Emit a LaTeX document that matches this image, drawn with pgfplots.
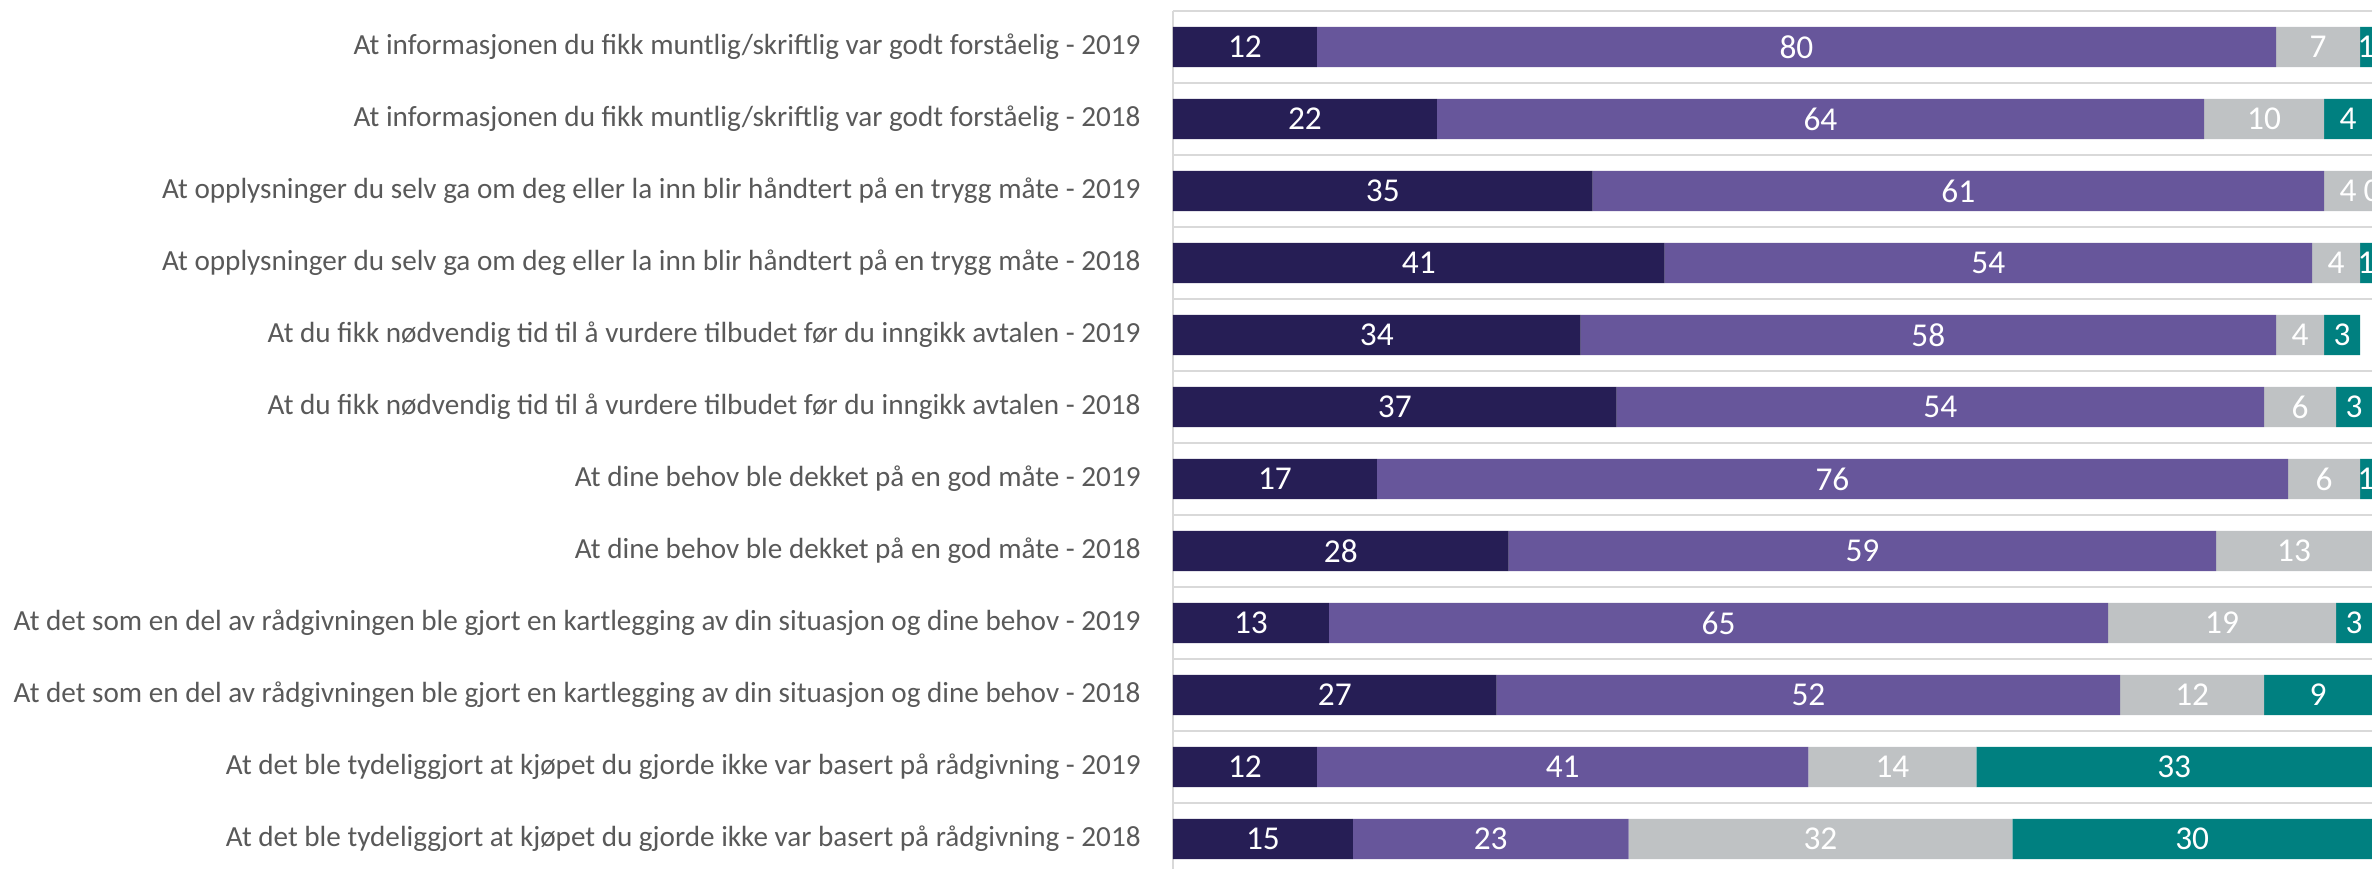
\documentclass[border=0pt]{standalone}
\usepackage{pgfplots}
\usepackage{pgfplotstable}
\pgfplotsset{compat=1.18}
\usepackage{fontspec}
\setmainfont{Carlito}
\definecolor{cnavy}{HTML}{261E55}
\definecolor{cpurple}{HTML}{67569B}
\definecolor{cgrey}{HTML}{BFC2C4}
\definecolor{cteal}{HTML}{008080}
\definecolor{cgrid}{HTML}{D9D9D9}
\definecolor{ctext}{HTML}{595959}
\pgfplotstableread{
a b c d
12 80 7 1
22 64 10 4
35 61 4 0
41 54 4 1
34 58 4 3
37 54 6 3
17 76 6 1
28 59 13 0
13 65 19 3
27 52 12 9
12 41 14 33
15 23 32 30
}\data
\pgfplotsset{
  base/.style={
    scale only axis,
    width=431.64pt, height=308.88pt,
    xmin=0, xmax=100,
    ymin=-0.5, ymax=11.417,
    y dir=reverse,
    /pgf/number format/assume math mode=true,
  }
}
\begin{document}
\begin{tikzpicture}
\begin{axis}[base,
  xbar stacked, bar width=0.556,
  axis x line=none,
  axis y line=left,
  axis line style={-, draw=cgrid, line width=0.8pt},
  ytick={0,...,11},
  yticklabels={
    At informasjonen du fikk muntlig/skriftlig var godt forståelig - 2019,
    At informasjonen du fikk muntlig/skriftlig var godt forståelig - 2018,
    At opplysninger du selv ga om deg eller la inn blir håndtert på en trygg måte - 2019,
    At opplysninger du selv ga om deg eller la inn blir håndtert på en trygg måte - 2018,
    At du fikk nødvendig tid til å vurdere tilbudet før du inngikk avtalen - 2019,
    At du fikk nødvendig tid til å vurdere tilbudet før du inngikk avtalen - 2018,
    At dine behov ble dekket på en god måte - 2019,
    At dine behov ble dekket på en god måte - 2018,
    At det som en del av rådgivningen ble gjort en kartlegging av din situasjon og dine behov - 2019,
    At det som en del av rådgivningen ble gjort en kartlegging av din situasjon og dine behov - 2018,
    At det ble tydeliggjort at kjøpet du gjorde ikke var basert på rådgivning - 2019,
    At det ble tydeliggjort at kjøpet du gjorde ikke var basert på rådgivning - 2018},
  yticklabel style={font=\fontsize{10.5}{12}\selectfont, text=ctext, xshift=-6pt},
  ytick style={draw=none},
  minor ytick={-0.5,0.5,...,11.5},
  yminorgrids=true,
  minor y grid style={draw=cgrid, line width=0.8pt},
]
\addplot[draw=none, fill=cnavy] table[x=a, y expr=\coordindex] {\data};
\addplot[draw=none, fill=cpurple] table[x=b, y expr=\coordindex] {\data};
\addplot[draw=none, fill=cgrey] table[x=c, y expr=\coordindex] {\data};
\addplot[draw=none, fill=cteal] table[x=d, y expr=\coordindex] {\data};
\coordinate (TR) at (axis cs:100,-0.5);
\coordinate (BR) at (axis cs:100,11.417);
\end{axis}
\begin{axis}[base,
  hide axis,
  clip marker paths=true,
  nodes near coords={\pgfmathprintnumber{\pgfplotspointmeta}},
  point meta=explicit,
  every node near coord/.style={anchor=center, text=white, font=\fontsize{12}{12}\selectfont},
]
\addplot[draw=none] table[x expr=\thisrow{a}/2, y expr=\coordindex, meta=a] {\data};
\addplot[draw=none] table[x expr=\thisrow{a}+\thisrow{b}/2, y expr=\coordindex, meta=b] {\data};
\addplot[draw=none] table[x expr=\thisrow{a}+\thisrow{b}+\thisrow{c}/2, y expr=\coordindex, meta=c] {\data};
\addplot[draw=none, skip coords between index={7}{8}] table[x expr=\thisrow{a}+\thisrow{b}+\thisrow{c}+\thisrow{d}/2, y expr=\coordindex, meta=d] {\data};
\end{axis}
\pgfresetboundingbox
\path[use as bounding box] ([yshift=3.96pt]TR) rectangle ([xshift=-853.92pt]BR);
\end{tikzpicture}
\end{document}
